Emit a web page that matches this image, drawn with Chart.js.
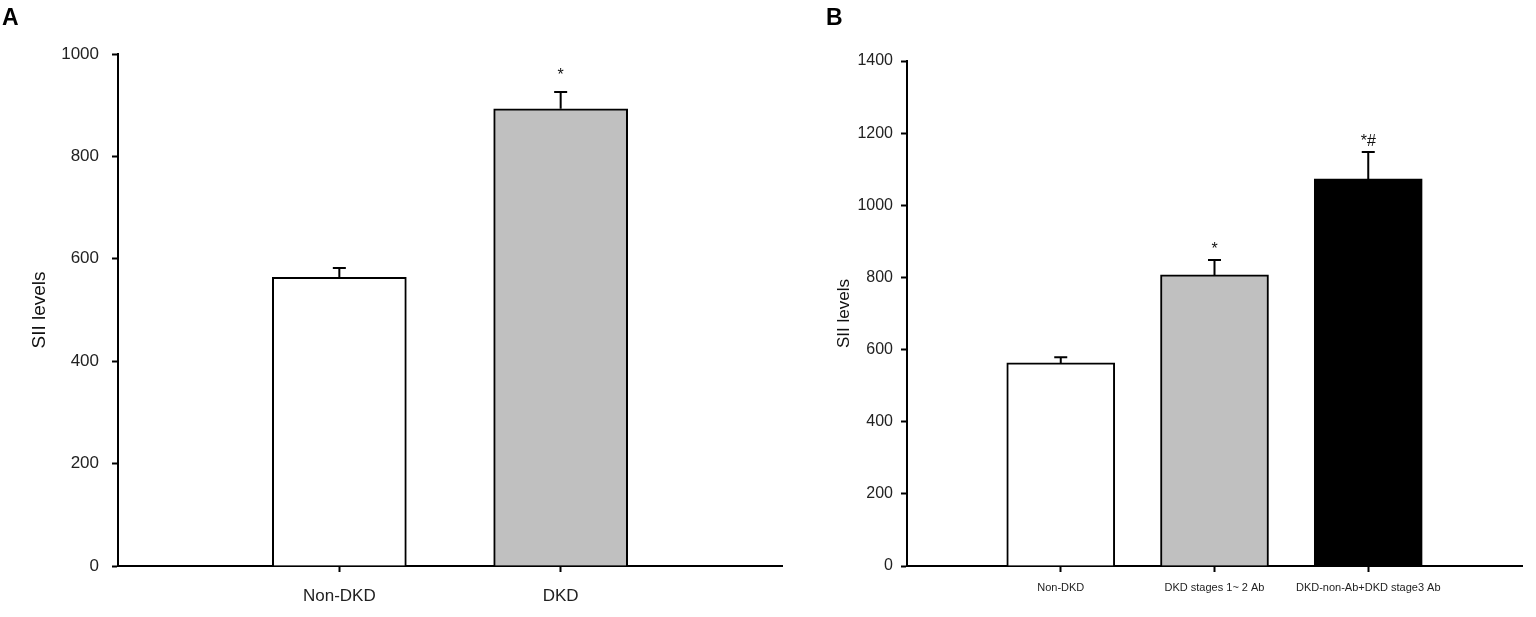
<!DOCTYPE html>
<html>
<head>
<meta charset="utf-8">
<script src="https://cdn.jsdelivr.net/npm/chart.js@4.4.1/dist/chart.umd.min.js"></script>
<style>
  html, body { margin: 0; padding: 0; background: #fff; }
  body { width: 1536px; height: 617px; position: relative; overflow: hidden; font-family: "Liberation Sans", Arial, sans-serif; }
  .panel { position: absolute; top: 0; height: 617px; }
  #pA { left: 0; width: 800px; }
  #pB { left: 768px; width: 768px; }
  .letter { position: absolute; font-weight: bold; font-size: 23px; color: #000; font-family: "Liberation Sans", Arial, sans-serif; }
</style>
</head>
<body>
<div class="panel" id="pA"><canvas id="cA"></canvas></div>
<div class="panel" id="pB"><canvas id="cB"></canvas></div>
<div class="letter" style="left:2px; top:4px;">A</div>
<div class="letter" style="left:826px; top:4px;">B</div>
<script>
// ---- Data ----
const categoriesA = ["Non-DKD", "DKD"];
const valuesA = [564, 893];
const errorsA = [18, 33];
const marksA = ["", "*"];
const colorsA = ["#ffffff", "#c0c0c0"];
const ticksA = [0, 200, 400, 600, 800, 1000];

const categoriesB = ["Non-DKD", "DKD stages 1~ 2 Ab", "DKD-non-Ab+DKD stage3 Ab"];
const valuesB = [563, 807, 1073];
const errorsB = [16, 41, 75];
const marksB = ["", "*", "*#"];
const colorsB = ["#ffffff", "#c0c0c0", "#000000"];
const ticksB = [0, 200, 400, 600, 800, 1000, 1200, 1400];

const FONT = "'Liberation Sans', Arial, sans-serif";

const errorPlugin = {
  id: 'errbars',
  afterDatasetsDraw(chart, args, opts) {
    const ctx = chart.ctx;
    const ys = chart.scales.y;
    const meta = chart.getDatasetMeta(0);
    const ds = chart.data.datasets[0];
    ctx.save();
    ctx.strokeStyle = '#000';
    ctx.lineWidth = 2;
    meta.data.forEach((bar, i) => {
      const v = ds.data[i].y;
      const e = opts.errors[i];
      const yb = ys.getPixelForValue(v);
      const yt = ys.getPixelForValue(v + e);
      ctx.beginPath();
      ctx.moveTo(bar.x, yb);
      ctx.lineTo(bar.x, yt);
      ctx.moveTo(bar.x - opts.cap / 2, yt);
      ctx.lineTo(bar.x + opts.cap / 2, yt);
      ctx.stroke();
      const m = opts.marks[i];
      if (m) {
        ctx.fillStyle = '#111';
        ctx.font = opts.markFont;
        ctx.textAlign = 'center';
        ctx.textBaseline = 'alphabetic';
        ctx.fillText(m, bar.x, yt - opts.markGap);
      }
    });
    ctx.restore();
  }
};

function makeChart(id, cats, vals, errs, marks, colors, yTicks, geo) {
  const data = cats.map((c, i) => ({ x: i + 1, y: vals[i] }));
  return new Chart(document.getElementById(id), {
    type: 'bar',
    data: {
      datasets: [{
        data: data,
        backgroundColor: colors,
        borderColor: '#000',
        borderWidth: 2,
        barThickness: geo.barW,
        borderSkipped: 'start'
      }]
    },
    options: {
      responsive: true,
      maintainAspectRatio: false,
      animation: false,
      events: [],
      layout: { padding: { left: 0, right: geo.padRight, top: geo.padTop, bottom: 0 } },
      plugins: {
        legend: { display: false },
        tooltip: { enabled: false },
        errbars: { errors: errs, marks: marks, cap: geo.cap, markFont: geo.markFont, markGap: geo.markGap }
      },
      scales: {
        x: {
          type: 'linear',
          min: 0,
          max: cats.length + 1,
          offset: false,
          afterBuildTicks(scale) { scale.ticks = cats.map((c, i) => ({ value: i + 1 })); },
          afterFit(scale) { scale.height = geo.xH; },
          ticks: {
            autoSkip: false,
            maxRotation: 0,
            color: '#222',
            padding: geo.xPad,
            font: { family: FONT, size: geo.xFont },
            callback: (v) => cats[v - 1] || ''
          },
          grid: { display: true, drawOnChartArea: false, drawTicks: true, tickLength: 6, tickWidth: 2, color: '#000', offset: false },
          border: { display: true, color: '#000', width: 2 }
        },
        y: {
          min: 0,
          max: yTicks[yTicks.length - 1],
          afterBuildTicks(scale) { scale.ticks = yTicks.map(v => ({ value: v })); },
          afterFit(scale) { scale.width = geo.yW; },
          ticks: {
            color: '#222',
            padding: geo.yPad,
            font: { family: FONT, size: geo.yFont },
            callback: (v) => String(v)
          },
          grid: { display: true, drawOnChartArea: false, drawTicks: true, tickLength: 6, tickWidth: 2, color: '#000' },
          border: { display: true, color: '#000', width: 2 },
          title: {
            display: true,
            text: 'SII levels',
            color: '#111',
            font: { family: FONT, size: geo.titleFont },
            padding: { top: geo.titlePad, bottom: 0 }
          }
        }
      }
    },
    plugins: [errorPlugin]
  });
}

makeChart('cA', categoriesA, valuesA, errorsA, marksA, colorsA, ticksA,
  { barW: 134, padRight: 18, padTop: 54, xH: 51, yW: 118, xPad: 14, xFont: 17, yPad: 13, yFont: 17,
    titleFont: 19, titlePad: 28, cap: 13, markFont: "16px " + FONT, markGap: 12 });

makeChart('cB', categoriesB, valuesB, errorsB, marksB, colorsB, ticksB,
  { barW: 108, padRight: 14, padTop: 61, xH: 51, yW: 139, xPad: 9, xFont: 11, yPad: 8, yFont: 16,
    titleFont: 17, titlePad: 66, cap: 13, markFont: "16px " + FONT, markGap: 6 });
</script>
</body>
</html>
